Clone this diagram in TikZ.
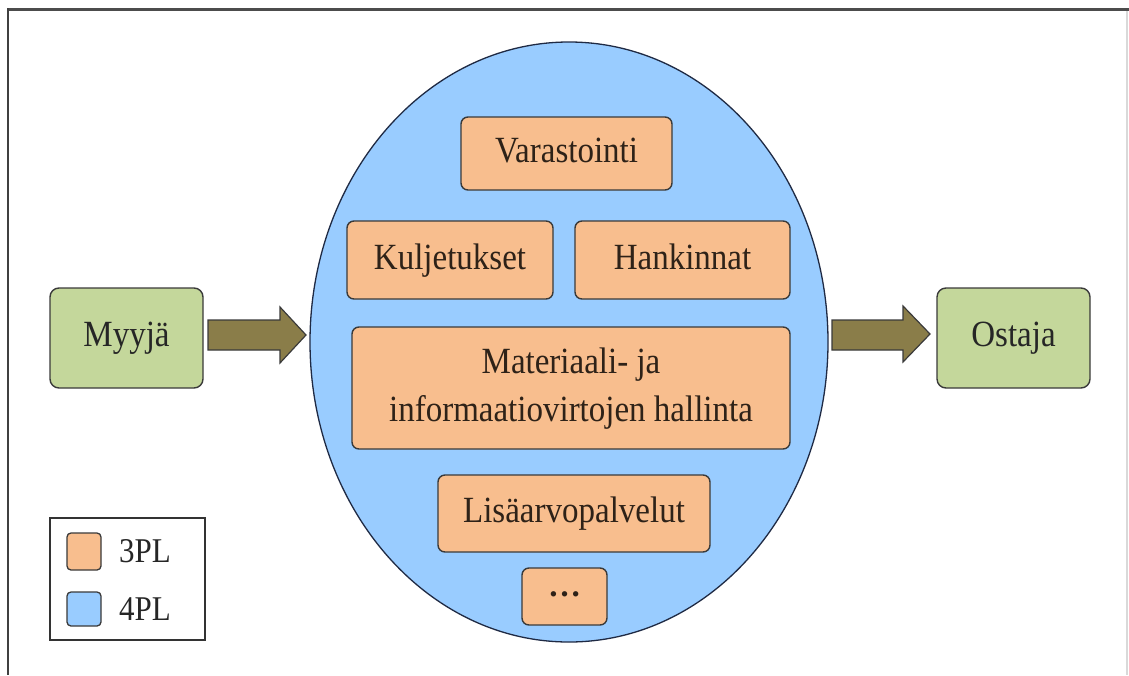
\documentclass[tikz,border=0pt]{standalone}
\usepackage{fontspec}
\setmainfont{Liberation Serif}
\usetikzlibrary{shapes.geometric}
\definecolor{skyfill}{HTML}{99CCFF}
\definecolor{skyline}{HTML}{1F2A44}
\definecolor{peach}{HTML}{F8BE8E}
\definecolor{sage}{HTML}{C4D79B}
\definecolor{olive}{HTML}{8A7D49}
\definecolor{edge}{HTML}{3A3A3A}
\definecolor{ink}{HTML}{2E2218}
% slightly tall lettering, with a common baseline
\newcommand\tallline[1]{\scalebox{1}[1.12]{\strut #1}}
\begin{document}
\begin{tikzpicture}[x=1pt,y=-1pt,
  task/.style={draw=edge, line width=1.4pt, fill=peach, rounded corners=7pt,
    text=ink, font=\fontsize{33}{42}\selectfont, align=center, inner sep=0pt},
  party/.style={draw=edge, line width=1.4pt, fill=sage, rounded corners=9pt,
    text=black!85, font=\fontsize{33}{40}\selectfont, inner sep=0pt,
    minimum width=153pt, minimum height=100pt},
  flow/.style={draw=edge, line width=1.2pt, fill=olive},
  swatch/.style={draw=edge, line width=1.3pt, rounded corners=4pt, inner sep=0pt},
  legendtext/.style={font=\fontsize{31}{36}\selectfont, text=black!85, anchor=west, inner sep=0pt}]
\useasboundingbox (0,0) rectangle (1129,675);
% page frame
\draw[gray!60!black, line width=3pt] (7,9.5) -- (1129,9.5);
\draw[black!75, line width=1.6pt] (8,8) -- (8,675);
\draw[black!15, line width=1.2pt] (1127,11) -- (1127,675);

% 4PL provider
\node[ellipse, draw=skyline, line width=1.3pt, fill=skyfill,
  minimum width=518pt, minimum height=600pt, inner sep=0pt] (fourpl) at (569,342) {};

% 3PL services
\node[task, minimum width=211pt, minimum height=73pt] (varasto) at (566.5,153.5) {\tallline{Varastointi}};
\node[task, minimum width=206pt, minimum height=78pt] (kulj) at (450,260) {\tallline{Kuljetukset}};
\node[task, minimum width=215pt, minimum height=78pt] (hank) at (682.5,260) {\tallline{Hankinnat}};
\node[task, minimum width=438pt, minimum height=122pt] (virrat) at (571,388)
  {\tallline{Materiaali- ja}\\\tallline{informaatiovirtojen hallinta}};
\node[task, minimum width=272pt, minimum height=77pt] (lisa) at (574,513.5) {\tallline{Lisäarvopalvelut}};
\node[task, minimum width=85pt, minimum height=57pt] (muut) at (564.5,596.5) {\raisebox{4pt}{\textbf{\dots}}};

% seller and buyer
\node[party] (myyja) at (126.5,338) {\tallline{Myyjä}};
\node[party] (ostaja) at (1013.5,338) {\tallline{Ostaja}};

% block arrows
\draw[flow] (208,320) -- (280,320) -- (280,307) -- (306,335) -- (280,363)
  -- (280,350) -- (208,350) -- cycle;
\draw[flow] (832,320) -- (903,320) -- (903,306) -- (930,334) -- (903,362)
  -- (903,350) -- (832,350) -- cycle;

% legend
\node[draw=black!80, line width=1.4pt, fill=white, minimum width=155pt,
  minimum height=122pt, inner sep=0pt] (legend) at (127.5,579) {};
\node[swatch, fill=peach, minimum width=34pt, minimum height=37pt] (sw3) at (84,551.5) {};
\node[swatch, fill=skyfill, minimum width=34pt, minimum height=34pt] (sw4) at (84,609) {};
\node[legendtext] (l3) at (119,551) {\scalebox{1}[1.12]{3PL}};
\node[legendtext] (l4) at (119,609) {\scalebox{1}[1.12]{4PL}};
\end{tikzpicture}
\end{document}
